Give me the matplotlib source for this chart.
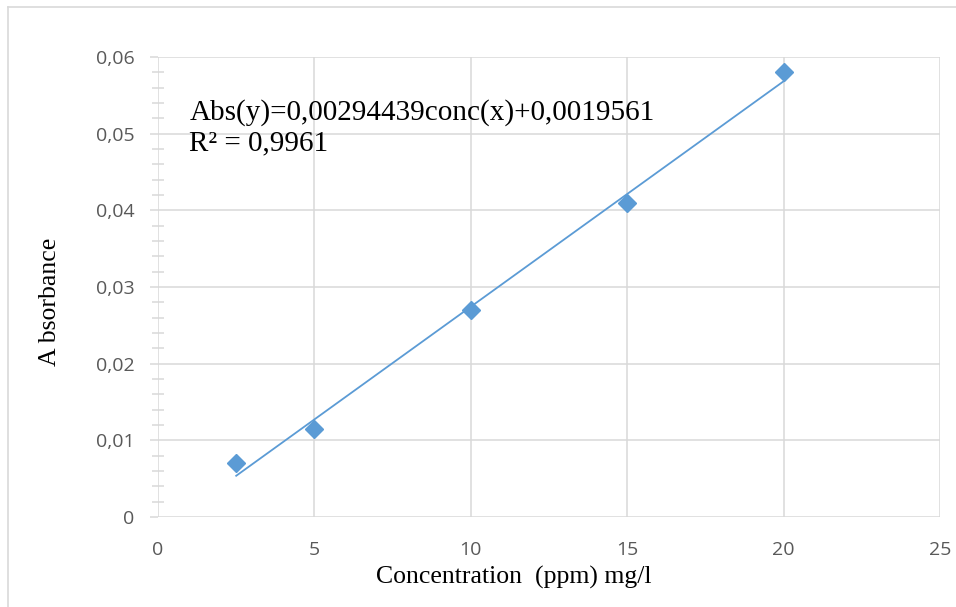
import matplotlib
matplotlib.use('Agg')
import matplotlib.pyplot as plt
import numpy as np
from matplotlib.ticker import MultipleLocator, FuncFormatter

# calibration data
conc = [2.5, 5, 10, 15, 20]
absorb = [0.007, 0.0115, 0.027, 0.041, 0.058]
x_ticks = [0, 5, 10, 15, 20, 25]
y_ticks = [0, 0.01, 0.02, 0.03, 0.04, 0.05, 0.06]
equation = "Abs(y)=0,00294439conc(x)+0,0019561"
r2_text = "R\u00b2 = 0,9961"

blue = '#5B9BD5'
grid_c = '#D9D9D9'
tick_c = '#595959'

fig = plt.figure(figsize=(9.56, 6.07), dpi=100)
ax = fig.add_axes([158/956, 1-517/607, 782/956, 460/607])

# frame round the chart area
fig.add_artist(plt.Line2D([7.5/956, 7.5/956], [0, 1-6.5/607], transform=fig.transFigure, color=grid_c, lw=1.2))
fig.add_artist(plt.Line2D([7.5/956, 1], [1-6.5/607, 1-6.5/607], transform=fig.transFigure, color=grid_c, lw=1.2))

# trendline from a least squares fit of the points
slope, icpt = np.polyfit(conc, absorb, 1)
xs = np.array([conc[0], conc[-1]])
ax.plot(xs, slope*xs + icpt, color=blue, lw=1.3, zorder=3)
ax.plot(conc, absorb, linestyle='none', marker='D', ms=9.5, color=blue, zorder=4)

ax.set_xlim(0, 25)
ax.set_ylim(0, 0.06)
ax.set_xticks(x_ticks)
ax.set_yticks(y_ticks)
ax.yaxis.set_minor_locator(MultipleLocator(0.002))
ax.xaxis.set_major_formatter(FuncFormatter(lambda v, p: "%d" % v))
ax.yaxis.set_major_formatter(FuncFormatter(lambda v, p: "0" if v == 0 else ("%.2f" % v).replace('.', ',')))

ax.grid(True, color=grid_c, lw=1.1)
for s in ax.spines.values():
    s.set_visible(False)
ax.tick_params(axis='x', length=0, pad=17, labelsize=14, labelcolor=tick_c)
ax.tick_params(axis='y', which='major', length=6, width=1.1, color=grid_c, pad=11, labelsize=14, labelcolor=tick_c)
ax.tick_params(axis='y', which='minor', direction='inout', length=8, width=1.1, color=grid_c)
for lab in ax.get_xticklabels() + ax.get_yticklabels():
    lab.set_family('Open Sans')

ax.set_xlabel("Concentration  (ppm) mg/l", family='Liberation Serif', fontsize=18.5)
ax.xaxis.set_label_coords((514-158)/782, (517-566)/460)
ax.set_ylabel("A bsorbance", family='Liberation Serif', fontsize=18.5)
ax.yaxis.set_label_coords((61-158)/782, (517-302)/460)

ax.text(1.0, 0.0545, equation + "\n" + r2_text, family='Liberation Serif', fontsize=21,
        va='top', ha='left', linespacing=1.22)

fig.savefig('out.png', dpi=100)
